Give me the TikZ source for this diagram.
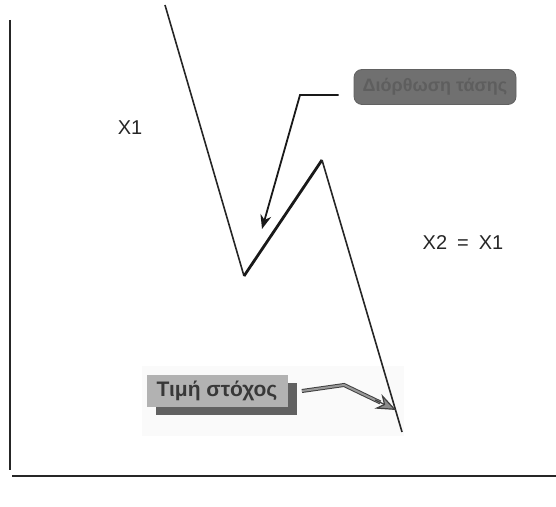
\documentclass[tikz,border=0pt]{standalone}
\usepackage{fontspec}
\setmainfont{Liberation Sans}
\usetikzlibrary{positioning,arrows.meta,shadows,backgrounds,calc}

\begin{document}
\begin{tikzpicture}[
  x=0.5pt,y=-0.5pt,
  font=\fontsize{10}{12}\selectfont,
  >={Stealth[length=7pt,width=5.5pt]},
  axis/.style={line width=1pt,black!85},
  price/.style={line width=0.8pt,black!85,line join=round},
  swing/.style={line width=1.4pt,black!90},
  lbl/.style={inner sep=1pt,text=black!85},
  corrbox/.style={rectangle,rounded corners=4pt,draw=black!62,fill=black!56,
                  minimum width=81pt,minimum height=17.5pt,inner sep=2pt,
                  text=black!63,font=\fontsize{9}{11}\selectfont\bfseries},
  tgtbox/.style={rectangle,fill=black!30,minimum width=70.5pt,minimum height=16pt,
                 inner sep=2pt,text=black!78,font=\fontsize{10.5}{12}\selectfont\bfseries,
                 general shadow={fill=black!62,shadow xshift=4.5pt,shadow yshift=-4pt}},
  ptr/.style={->,line width=0.9pt,black!90},
  dptr/.style={line width=0.5pt,draw=black!75,double=black!40,double distance=1pt}
]
\useasboundingbox (0,0) rectangle (556,507);

%% ================= axes =================
\coordinate (ytop) at (10,20);
\coordinate (orig) at (10,470);
\coordinate (xend) at (556,476);
\draw[axis] (ytop) -- (orig);
\draw[axis] (12,476) -- (xend);

%% ================= price path =================
\coordinate (start) at (165,5);
\coordinate (low)   at (244,276);
\coordinate (peak)  at (322,160);
\coordinate (final) at (402,432);

\begin{scope}[on background layer]
  \fill[black!2] (142,366) rectangle (404,436);
\end{scope}

\draw[price] (start) -- (low);
\draw[swing] (low) -- (peak);
\draw[price] (peak) -- (final);

\node[lbl] (x1) at (130,128) {X1};
\node[lbl] (x2) at (463,243) {X2\enspace=\enspace X1};

%% ================= correction label =================
\node[corrbox] (corr) at (435,87) {Διόρθωση τάσης};
\coordinate (elbow) at (300,95);
\coordinate (hit)   at (262,229);
\draw[ptr] ([xshift=-7.5pt,yshift=-4pt]corr.west) -- (elbow) -- (hit);

%% ================= target label =================
\node[tgtbox] (tgt) at (217,391) {Τιμή στόχος};
\coordinate (bend) at (344,385);
\coordinate (tip)  at (396,410);
\draw[dptr] ([xshift=7pt]tgt.east) -- (bend) -- ($(bend)!0.7!(tip)$);
\draw[-{Stealth[length=10pt,width=8pt,fill=black!45]},line width=0.6pt,black!75]
  ($(bend)!0.6!(tip)$) -- (tip);

\end{tikzpicture}
\end{document}
